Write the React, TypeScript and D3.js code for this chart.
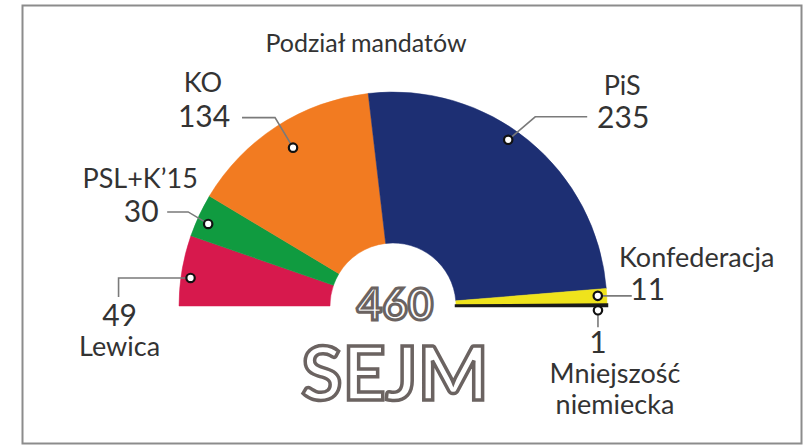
import React, { useEffect, useRef } from 'react';
import * as d3 from 'd3';

// seats in the Sejm, left to right round the half circle
const parties = ['Lewica', 'PSL+K\u201915', 'KO', 'PiS', 'Konfederacja', 'Mniejszość niemiecka'];
const seats = [49, 30, 134, 235, 11, 1];
const colors = ['#d7194d', '#109b40', '#f27b21', '#1d2f73', '#efe31c', '#1a1a1a'];
const totalLabel = '460';
const chamberLabel = 'SEJM';
const title = 'Podział mandatów';

// label layout: offsets from the dot on the slice
type Lbl = {
  rr: number; shift: number;
  leader: [number, number][];
  name: { dx: number; dy: number; lines: string[] };
  value: { dx: number; dy: number };
};
const labelLayout: Lbl[] = [
  { rr: 0.955, shift: -1.7, leader: [[-72, 0], [-72, 19]], name: { dx: -71, dy: 78, lines: ['Lewica'] }, value: { dx: -71, dy: 48 } },
  { rr: 0.945, shift: -1.1, leader: [[-20, -12], [-41, -12]], name: { dx: -68, dy: -36, lines: ['PSL+K\u201915'] }, value: { dx: -67, dy: -2 } },
  { rr: 0.875, shift: 0.6, leader: [[-18, -30], [-51, -30]], name: { dx: -90, dy: -56, lines: ['KO'] }, value: { dx: -89, dy: -21 } },
  { rr: 0.945, shift: -4.6, leader: [[27, -23], [79, -23]], name: { dx: 114, dy: -45, lines: ['PiS'] }, value: { dx: 115, dy: -12 } },
  { rr: 0.958, shift: -0.3, leader: [[34, 0]], name: { dx: 99, dy: -29, lines: ['Konfederacja'] }, value: { dx: 50, dy: 4 } },
  { rr: 0.958, shift: 1.4, leader: [[0, 17]], name: { dx: 17, dy: 73, lines: ['Mniejszość', 'niemiecka'] }, value: { dx: 0, dy: 43 } },
];

const App: React.FC = () => {
  const svgRef = useRef<SVGSVGElement | null>(null);

  useEffect(() => {
    const width = 809;
    const height = 446;
    const cx = 393;
    const cy = 306;
    const outerR = 214;
    const innerR = 63;
    const font = 'Lato, "Open Sans", sans-serif';
    const ink = '#333333';

    const svg = d3.select(svgRef.current)
      .attr('width', width)
      .attr('height', height)
      .attr('viewBox', [0, 0, width, height].join(' '));
    svg.selectAll('*').remove();

    svg.append('rect').attr('width', width).attr('height', height).attr('fill', '#ffffff');
    svg.append('rect')
      .attr('x', 22.5).attr('y', 5.5).attr('width', 779).attr('height', 438)
      .attr('fill', 'none').attr('stroke', '#8c8c8c').attr('stroke-width', 2);

    svg.append('text')
      .attr('x', 366).attr('y', 52)
      .attr('text-anchor', 'middle')
      .attr('font-family', font).attr('font-size', 25)
      .attr('fill', ink)
      .text(title);

    const data = parties.map((p, i) => ({ party: p, seats: seats[i], color: colors[i] }));
    const pie = d3.pie<{ party: string; seats: number; color: string }>()
      .value(d => d.seats)
      .sort(null)
      .startAngle(-Math.PI / 2)
      .endAngle(Math.PI / 2);
    const arcs = pie(data);
    const arc = d3.arc<d3.PieArcDatum<{ party: string; seats: number; color: string }>>()
      .innerRadius(innerR)
      .outerRadius(outerR);

    const g = svg.append('g').attr('transform', `translate(${cx},${cy})`);
    g.selectAll('path')
      .data(arcs)
      .enter()
      .append('path')
      .attr('d', arc)
      .attr('fill', d => d.data.color)
      .attr('stroke', d => d.data.color)
      .attr('stroke-width', d => (d.data.seats < 5 ? 2.5 : 0.5));

    // leaders, dots, labels
    arcs.forEach((a, i) => {
      const L = labelLayout[i];
      const ang = (a.startAngle + a.endAngle) / 2 + (L.shift * Math.PI) / 180;
      const px = cx + outerR * L.rr * Math.sin(ang);
      const py = cy - outerR * L.rr * Math.cos(ang);
      const pts: [number, number][] = [[px, py], ...L.leader.map(([dx, dy]) => [px + dx, py + dy] as [number, number])];
      svg.append('path')
        .attr('d', d3.line()(pts))
        .attr('fill', 'none')
        .attr('stroke', '#7a7a7a')
        .attr('stroke-width', 1.6);
      svg.append('circle')
        .attr('cx', px).attr('cy', py).attr('r', 4.2)
        .attr('fill', '#ffffff')
        .attr('stroke', '#111111')
        .attr('stroke-width', 2.2);
      svg.append('text')
        .attr('x', px + L.value.dx).attr('y', py + L.value.dy)
        .attr('text-anchor', 'middle')
        .attr('font-family', font).attr('font-size', 30)
        .attr('fill', ink)
        .text(String(a.data.seats));
      L.name.lines.forEach((ln, k) => {
        svg.append('text')
          .attr('x', px + L.name.dx).attr('y', py + L.name.dy + k * 31)
          .attr('text-anchor', 'middle')
          .attr('font-family', font).attr('font-size', 27)
          .attr('fill', ink)
          .text(ln);
      });
    });

    // outlined total in the hole
    svg.append('text')
      .attr('x', cx + 2).attr('y', 320)
      .attr('text-anchor', 'middle')
      .attr('font-family', font).attr('font-weight', 700).attr('font-size', 44)
      .attr('fill', '#ffffff').attr('stroke', '#6b6361').attr('stroke-width', 3)
      .text(totalLabel);
    svg.append('text')
      .attr('x', cx + 2).attr('y', 400)
      .attr('text-anchor', 'middle')
      .attr('font-family', font).attr('font-weight', 700).attr('font-size', 75)
      .attr('fill', '#ffffff').attr('stroke', '#6b6361').attr('stroke-width', 3.5)
      .text(chamberLabel);
  }, []);

  return (
    <svg ref={svgRef} style={{ position: 'absolute', left: 0, top: 0, display: 'block' }}></svg>
  );
};

export default App;
